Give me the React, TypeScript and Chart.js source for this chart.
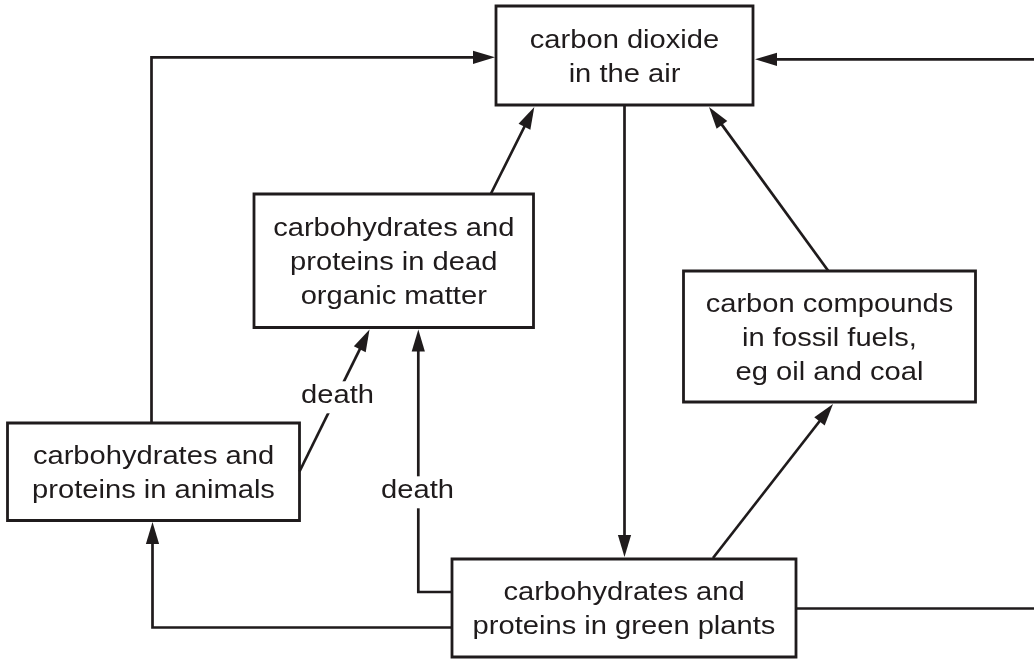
import React, { useEffect, useRef } from 'react';
import { Chart, registerables } from 'chart.js';

Chart.register(...registerables);

const W = 1034;
const H = 661;

// Boxes of the diagram (in diagram units of the reference picture)
const boxLabels: string[][] = [
  ['carbon dioxide', 'in the air'],
  ['carbohydrates and', 'proteins in dead', 'organic matter'],
  ['carbon compounds', 'in fossil fuels,', 'eg oil and coal'],
  ['carbohydrates and', 'proteins in animals'],
  ['carbohydrates and', 'proteins in green plants'],
];
const boxLeft = [496, 254, 683.5, 7.5, 452];
const boxRight = [753, 533.5, 975.5, 299.5, 796];
const boxTop = [6, 194, 271, 423, 559];
const boxBottom = [105, 327.5, 402, 520.5, 657];

// Flows (connectors); last point is the arrow tip when flowArrow is true
const flowPaths: number[][][] = [
  [[151.5, 423], [151.5, 57.3], [495, 57.3]],
  [[1034, 59.3], [755, 59.3]],
  [[796, 608.5], [1034, 608.5]],
  [[624.5, 105], [624.5, 557]],
  [[452, 627.5], [152.5, 627.5], [152.5, 522]],
  [[452, 592], [418.3, 592], [418.3, 329.5]],
  [[299.5, 471.5], [369.5, 329.5]],
  [[491, 193.5], [534.3, 107]],
  [[828, 270.5], [709, 107]],
  [[713, 558], [833, 404]],
];
const flowArrow = [true, true, false, true, true, true, true, true, true, true];

// Edge labels
const edgeLabels = ['death', 'death'];
const edgeLabelX = [337.5, 417.5];
const edgeLabelY = [403.3, 498.3];

const INK = '#1f1b1c';
const FONT = '25px "Liberation Sans", Arial, Helvetica, sans-serif';
const STRETCH = 1.165;
const LINE_H = 34;
const BASE_OFF = 9;
const ARROW_LEN = 22;
const ARROW_HALF = 6.6;

function shortenPath(path: number[][], arrow: boolean) {
  const pts = path.map((p) => ({ x: p[0], y: p[1] }));
  if (!arrow) return pts;
  const n = pts.length;
  const a = pts[n - 2];
  const b = pts[n - 1];
  const dx = b.x - a.x;
  const dy = b.y - a.y;
  const len = Math.hypot(dx, dy);
  const cut = ARROW_LEN - 3;
  pts[n - 1] = { x: b.x - (dx / len) * cut, y: b.y - (dy / len) * cut };
  return pts;
}

const diagramPlugin = {
  id: 'diagramDecor',
  afterDatasetsDraw(chart: any) {
    const ctx: CanvasRenderingContext2D = chart.ctx;
    const xs = chart.scales.x;
    const ys = chart.scales.y;
    const px = (v: number) => xs.getPixelForValue(v);
    const py = (v: number) => ys.getPixelForValue(v);

    ctx.save();
    // arrowheads
    ctx.fillStyle = INK;
    flowPaths.forEach((path, i) => {
      if (!flowArrow[i]) return;
      const n = path.length;
      const ax = px(path[n - 2][0]);
      const ay = py(path[n - 2][1]);
      const bx = px(path[n - 1][0]);
      const by = py(path[n - 1][1]);
      const dx = bx - ax;
      const dy = by - ay;
      const len = Math.hypot(dx, dy);
      const ux = dx / len;
      const uy = dy / len;
      const baseX = bx - ux * ARROW_LEN;
      const baseY = by - uy * ARROW_LEN;
      ctx.beginPath();
      ctx.moveTo(bx, by);
      ctx.lineTo(baseX - uy * ARROW_HALF, baseY + ux * ARROW_HALF);
      ctx.lineTo(baseX + uy * ARROW_HALF, baseY - ux * ARROW_HALF);
      ctx.closePath();
      ctx.fill();
    });

    ctx.font = FONT;
    ctx.textAlign = 'center';
    ctx.textBaseline = 'alphabetic';

    // edge labels with white backing
    edgeLabels.forEach((t, i) => {
      const x = px(edgeLabelX[i]);
      const y = py(edgeLabelY[i]);
      const w = ctx.measureText(t).width * STRETCH;
      ctx.fillStyle = '#ffffff';
      ctx.fillRect(x - w / 2 - 3, y - 22, w + 6, 32);
      ctx.fillStyle = INK;
      ctx.save();
      ctx.translate(x, y);
      ctx.scale(STRETCH, 1);
      ctx.fillText(t, 0, 0);
      ctx.restore();
    });

    // box texts
    ctx.fillStyle = INK;
    boxLabels.forEach((lines, i) => {
      const cx = px((boxLeft[i] + boxRight[i]) / 2);
      const cy = py((boxTop[i] + boxBottom[i]) / 2);
      const n = lines.length;
      lines.forEach((t, j) => {
        const y = cy + (j - (n - 1) / 2) * LINE_H + BASE_OFF;
        ctx.save();
        ctx.translate(cx, y);
        ctx.scale(STRETCH, 1);
        ctx.fillText(t, 0, 0);
        ctx.restore();
      });
    });
    ctx.restore();
  },
};

export default function App() {
  const ref = useRef<HTMLCanvasElement | null>(null);

  useEffect(() => {
    document.body.style.margin = '0';
    const canvas = ref.current;
    if (!canvas) return;

    const boxSets = boxLabels.map((_, i) => ({
      label: 'box' + i,
      data: [
        { x: boxLeft[i], y: boxTop[i] },
        { x: boxRight[i], y: boxTop[i] },
        { x: boxRight[i], y: boxBottom[i] },
        { x: boxLeft[i], y: boxBottom[i] },
        { x: boxLeft[i], y: boxTop[i] },
      ],
      showLine: true,
      borderColor: INK,
      borderWidth: 2.8,
      borderJoinStyle: 'miter' as const,
      borderCapStyle: 'square' as const,
      pointRadius: 0,
      fill: false,
      tension: 0,
    }));

    const flowSets = flowPaths.map((path, i) => ({
      label: 'flow' + i,
      data: shortenPath(path, flowArrow[i]),
      showLine: true,
      borderColor: INK,
      borderWidth: 2.7,
      borderJoinStyle: 'miter' as const,
      borderCapStyle: 'butt' as const,
      pointRadius: 0,
      fill: false,
      tension: 0,
    }));

    const chart = new Chart(canvas, {
      type: 'scatter',
      data: { datasets: [...flowSets, ...boxSets] as any },
      options: {
        responsive: false,
        animation: false,
        devicePixelRatio: 1,
        events: [],
        layout: { padding: 0 },
        scales: {
          x: { type: 'linear', min: 0, max: W, display: false },
          y: { type: 'linear', min: 0, max: H, reverse: true, display: false },
        },
        plugins: {
          legend: { display: false },
          tooltip: { enabled: false },
        },
      },
      plugins: [diagramPlugin],
    });

    return () => chart.destroy();
  }, []);

  return (
    <div
      style={{
        position: 'fixed',
        left: 0,
        top: 0,
        width: W,
        height: H,
        background: '#ffffff',
      }}
    >
      <canvas ref={ref} width={W} height={H} style={{ display: 'block' }} />
    </div>
  );
}
